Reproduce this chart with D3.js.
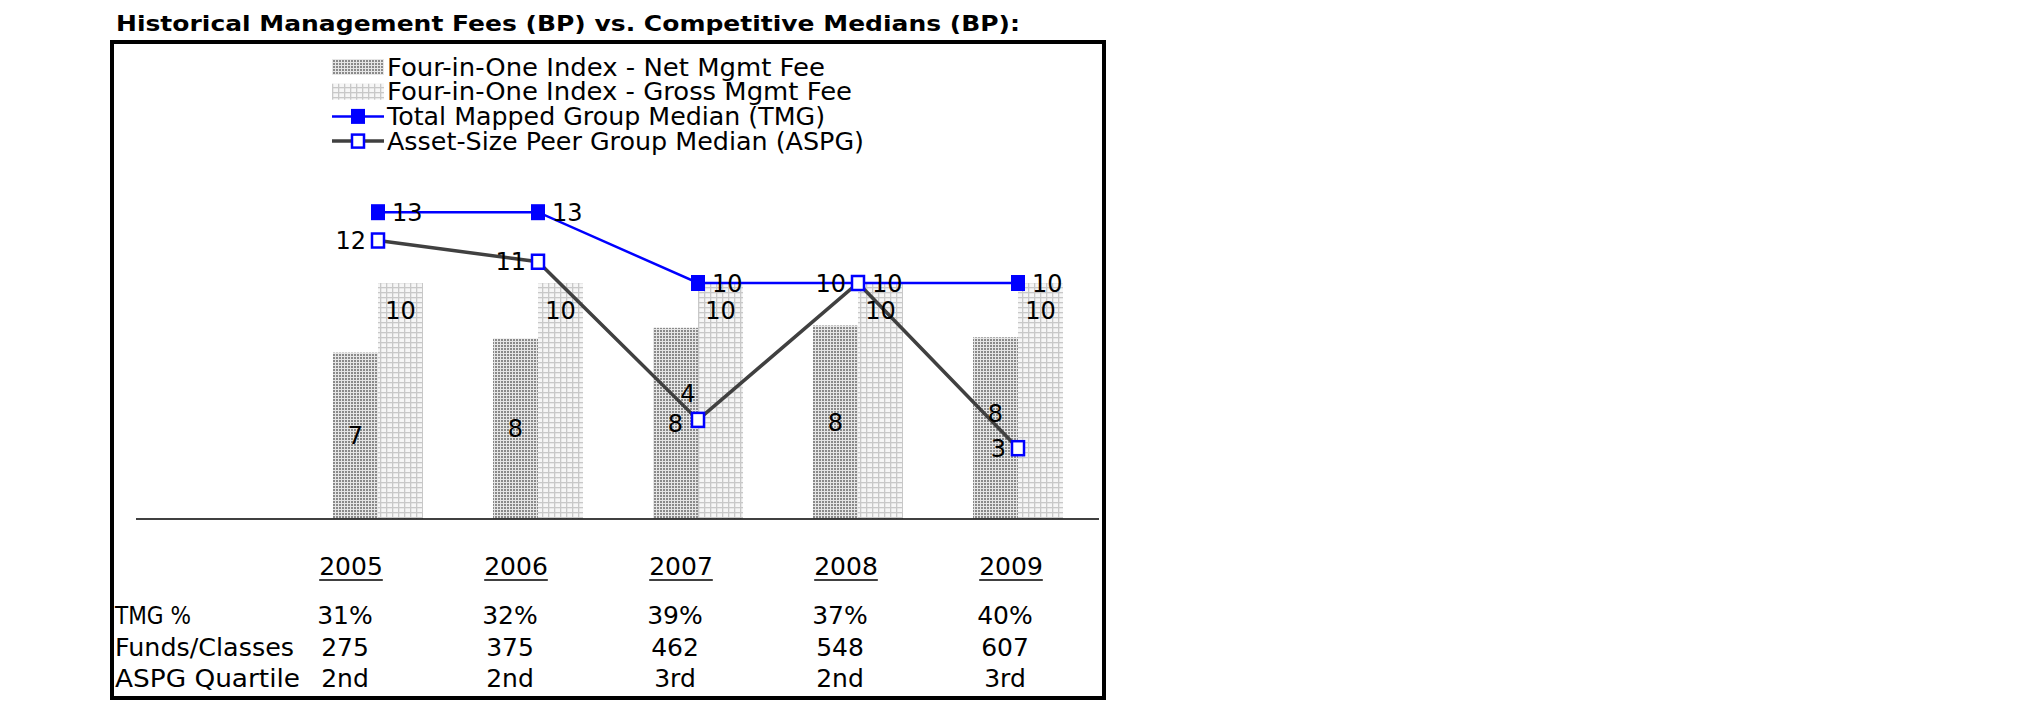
<!DOCTYPE html>
<html>
<head>
<meta charset="utf-8">
<script src="https://cdn.jsdelivr.net/npm/d3@7"></script>
<style>
  html, body { margin: 0; padding: 0; background: #fff; }
  svg { display: block; }
  text { font-family: Verdana, "DejaVu Sans", sans-serif; fill: #000; }
</style>
</head>
<body>
<svg id="chart" width="2025" height="717"></svg>
<script>
// ---------------- data ----------------
const years = ["2005", "2006", "2007", "2008", "2009"];
const netMgmtFee = [7.05, 7.65, 8.1, 8.2, 7.7];
const grossMgmtFee = [10, 10, 10, 10, 10];
const tmgMedian = [13, 13, 10, 10, 10];
const aspgMedian = [11.8, 10.9, 4.2, 10, 3];
const legendLabels = [
  "Four-in-One Index - Net Mgmt Fee",
  "Four-in-One Index - Gross Mgmt Fee",
  "Total Mapped Group Median (TMG)",
  "Asset-Size Peer Group Median (ASPG)"
];
const tableRowLabels = ["TMG %", "Funds/Classes", "ASPG Quartile"];
const tmgPct = ["31%", "32%", "39%", "37%", "40%"];
const fundsClasses = ["275", "375", "462", "548", "607"];
const aspgQuartile = ["2nd", "2nd", "3rd", "2nd", "3rd"];
const titleText = "Historical Management Fees (BP) vs. Competitive Medians (BP):";

// ---------------- setup ----------------
const svg = d3.select("#chart");
const defs = svg.append("defs");

// net fee: dense stipple
const pNet = defs.append("pattern").attr("id", "pNet")
  .attr("patternUnits", "userSpaceOnUse").attr("width", 3).attr("height", 3);
pNet.append("rect").attr("width", 3).attr("height", 3).attr("fill", "#e6e6e6");
pNet.append("rect").attr("width", 2).attr("height", 2).attr("fill", "#8a8a8a");

// gross fee: light grid
const pGross = defs.append("pattern").attr("id", "pGross")
  .attr("patternUnits", "userSpaceOnUse").attr("width", 6).attr("height", 5);
pGross.append("rect").attr("width", 6).attr("height", 5).attr("fill", "#f6f6f6");
pGross.append("rect").attr("x", 2).attr("width", 1.3).attr("height", 5).attr("fill", "#c8c8c8");
pGross.append("rect").attr("y", 2).attr("width", 6).attr("height", 1.3).attr("fill", "#c8c8c8");

const baseY = 519;
const y = d3.scaleLinear().domain([0, 10]).range([baseY, 283]);
const x = d3.scaleBand().domain(years).range([298, 1098])
  .paddingInner(0.4375).paddingOuter(0.21875);
const xSub = d3.scaleBand().domain(["net", "gross"]).range([0, x.bandwidth()]);
const cx = d => x(d) + x.bandwidth() / 2;

const rows = years.map((yr, i) => ({
  year: yr, net: netMgmtFee[i], gross: grossMgmtFee[i],
  tmg: tmgMedian[i], aspg: aspgMedian[i]
}));

// ---------------- title & frame ----------------
svg.append("text")
  .attr("x", 116).attr("y", 31)
  .attr("font-size", 22).attr("font-weight", "bold")
  .attr("textLength", 904).attr("lengthAdjust", "spacingAndGlyphs")
  .text(titleText);

svg.append("rect")
  .attr("x", 112).attr("y", 42).attr("width", 992).attr("height", 656)
  .attr("fill", "none").attr("stroke", "#000").attr("stroke-width", 4);

// ---------------- legend ----------------
const legendY = i => 67 + i * 24.7;
const legendWidths = [438, 465, 438, 477];
const lg = svg.append("g");
legendLabels.forEach((lab, i) => {
  const yy = legendY(i);
  if (i < 2) {
    lg.append("rect").attr("x", 332).attr("y", yy - 8).attr("width", 52).attr("height", 16)
      .attr("fill", i === 0 ? "url(#pNet)" : "url(#pGross)");
  } else if (i === 2) {
    lg.append("line").attr("x1", 332).attr("x2", 384).attr("y1", yy).attr("y2", yy)
      .attr("stroke", "#0000ff").attr("stroke-width", 2.5);
    lg.append("rect").attr("x", 358 - 7).attr("y", yy - 7.5).attr("width", 14).attr("height", 15)
      .attr("fill", "#0000ff");
  } else {
    lg.append("line").attr("x1", 332).attr("x2", 384).attr("y1", yy).attr("y2", yy)
      .attr("stroke", "#404040").attr("stroke-width", 3.5);
    lg.append("rect").attr("x", 358 - 6).attr("y", yy - 6.5).attr("width", 12).attr("height", 13)
      .attr("fill", "#fff").attr("stroke", "#0000ff").attr("stroke-width", 2.5);
  }
  lg.append("text").attr("x", 387).attr("y", yy).attr("dy", "0.36em")
    .attr("font-size", 24)
    .attr("textLength", legendWidths[i]).attr("lengthAdjust", "spacingAndGlyphs")
    .text(lab);
});

// ---------------- bars ----------------
const bars = svg.append("g");
bars.selectAll("rect.net").data(rows).join("rect").attr("class", "net")
  .attr("x", d => x(d.year) + xSub("net"))
  .attr("width", xSub.bandwidth())
  .attr("y", d => y(d.net))
  .attr("height", d => baseY - y(d.net))
  .attr("fill", "url(#pNet)");
bars.selectAll("rect.gross").data(rows).join("rect").attr("class", "gross")
  .attr("x", d => x(d.year) + xSub("gross"))
  .attr("width", xSub.bandwidth())
  .attr("y", d => y(d.gross))
  .attr("height", d => baseY - y(d.gross))
  .attr("fill", "url(#pGross)");

// baseline
svg.append("line").attr("x1", 136).attr("x2", 1099).attr("y1", baseY).attr("y2", baseY)
  .attr("stroke", "#000").attr("stroke-width", 1.5);

// ---------------- lines ----------------
const lineTmg = d3.line().x(d => cx(d.year)).y(d => y(d.tmg));
const lineAspg = d3.line().x(d => cx(d.year)).y(d => y(d.aspg));
svg.append("path").datum(rows).attr("d", lineAspg)
  .attr("fill", "none").attr("stroke", "#404040").attr("stroke-width", 3.5);
svg.append("path").datum(rows).attr("d", lineTmg)
  .attr("fill", "none").attr("stroke", "#0000ff").attr("stroke-width", 2.5);

svg.selectAll("rect.tmgM").data(rows).join("rect").attr("class", "tmgM")
  .attr("x", d => cx(d.year) - 7).attr("y", d => y(d.tmg) - 8)
  .attr("width", 14).attr("height", 16).attr("fill", "#0000ff");
svg.selectAll("rect.aspgM").data(rows).join("rect").attr("class", "aspgM")
  .attr("x", d => cx(d.year) - 6).attr("y", d => y(d.aspg) - 7)
  .attr("width", 12).attr("height", 14)
  .attr("fill", "#fff").attr("stroke", "#0000ff").attr("stroke-width", 2.5);

// ---------------- data labels ----------------
const fmt = v => String(Math.round(v));
const lbl = svg.append("g").attr("font-size", 24);
// gross labels: inside top
lbl.selectAll("text.g").data(rows).join("text")
  .attr("x", d => x(d.year) + xSub("gross") + xSub.bandwidth() / 2)
  .attr("y", d => y(d.gross) + 27).attr("dy", "0.36em")
  .attr("text-anchor", "middle").text(d => fmt(d.gross));
// net labels: centre, lifted above the ASPG marker when that marker sits below the centre
const netLabelY = d => {
  const c = (y(d.net) + baseY) / 2;
  return y(d.aspg) > c + 10 && y(d.aspg) < c + 40 ? y(d.aspg) - 35 : c;
};
lbl.selectAll("text.n").data(rows).join("text")
  .attr("x", d => x(d.year) + xSub("net") + xSub.bandwidth() / 2)
  .attr("y", netLabelY).attr("dy", "0.36em")
  .attr("text-anchor", "middle").text(d => fmt(d.net));
// TMG labels: right
lbl.selectAll("text.t").data(rows).join("text")
  .attr("x", d => cx(d.year) + 14)
  .attr("y", d => y(d.tmg)).attr("dy", "0.36em")
  .text(d => fmt(d.tmg));
// ASPG labels: left (above where a left label would collide with the bar label)
lbl.selectAll("text.a").data(rows).join("text")
  .attr("x", d => d.year === "2007" ? cx(d.year) - 10 : cx(d.year) - 12)
  .attr("y", d => d.year === "2007" ? y(d.aspg) - 27 : y(d.aspg))
  .attr("dy", "0.36em")
  .attr("text-anchor", d => d.year === "2007" ? "middle" : "end")
  .text(d => fmt(d.aspg));

// ---------------- table ----------------
const tx = d3.scalePoint().domain(years).range([345, 1005]);
const tbl = svg.append("g").attr("font-size", 25);
const yearRowY = 566;
tbl.selectAll("text.yr").data(years).join("text").attr("class", "yr")
  .attr("x", d => tx(d) + 6).attr("y", yearRowY).attr("dy", "0.36em")
  .attr("text-anchor", "middle").text(d => d)
  .each(function(d) {
    const bb = this.getBBox();
    tbl.append("line")
      .attr("x1", bb.x).attr("x2", bb.x + bb.width)
      .attr("y1", yearRowY + 14).attr("y2", yearRowY + 14)
      .attr("stroke", "#000").attr("stroke-width", 1.5);
  });

const tableRowY = [615, 647, 678];
const rowLabelWidths = [76, 179, 185];
const tableValues = [tmgPct, fundsClasses, aspgQuartile];
tableRowLabels.forEach((lab, r) => {
  tbl.append("text").attr("x", 115).attr("y", tableRowY[r]).attr("dy", "0.36em")
    .attr("textLength", rowLabelWidths[r]).attr("lengthAdjust", "spacingAndGlyphs")
    .text(lab);
  tbl.selectAll("text.v" + r).data(tableValues[r]).join("text").attr("class", "v" + r)
    .attr("x", (d, i) => tx(years[i])).attr("y", tableRowY[r]).attr("dy", "0.36em")
    .attr("text-anchor", "middle").text(d => d);
});
</script>
</body>
</html>
